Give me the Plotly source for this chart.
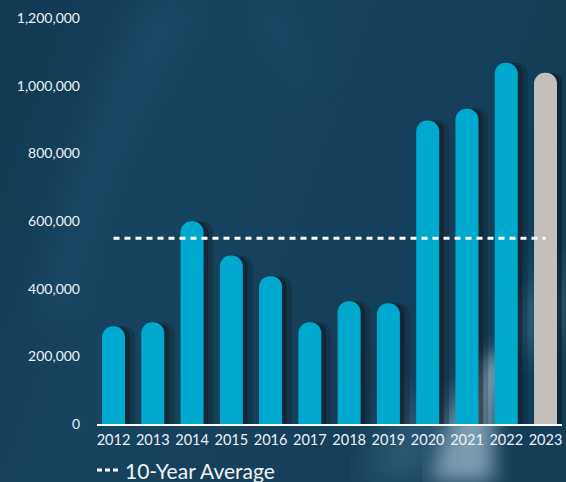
import base64
import plotly.graph_objects as go

# Annual totals, 2012-2023
years = ["2012", "2013", "2014", "2015", "2016", "2017",
         "2018", "2019", "2020", "2021", "2022", "2023"]
totals = [289000, 301000, 599000, 498000, 437000, 301000,
          363000, 357000, 897000, 932000, 1068000, 1038000]
ten_year_average = 549000

y_ticks = [0, 200000, 400000, 600000, 800000, 1000000, 1200000]
y_tick_labels = ["0", "200,000", "400,000", "600,000", "800,000",
                 "1,000,000", "1,200,000"]

CYAN = "#00aacf"
GREY = "#c3bfbc"
bar_colors = [CYAN] * (len(years) - 1) + [GREY]

W, H = 566, 482
L, R, T, B = 97, 4, 18, 58
BAR_W = 0.585

# Soft dark-blue backdrop with light streaks
svg = f"""<svg xmlns='http://www.w3.org/2000/svg' width='{W}' height='{H}'>
<defs>
<linearGradient id='g' x1='0' y1='0' x2='1' y2='0.3'>
<stop offset='0' stop-color='#113a53'/>
<stop offset='0.35' stop-color='#16435f'/>
<stop offset='1' stop-color='#133e58'/>
</linearGradient>
<filter id='b1'><feGaussianBlur stdDeviation='18'/></filter>
<filter id='b2'><feGaussianBlur stdDeviation='10'/></filter>
</defs>
<rect width='{W}' height='{H}' fill='url(#g)'/>
<path d='M150,0 C110,80 70,180 40,320 L70,320 C100,180 150,80 200,0 Z' fill='#2a6088' opacity='0.3' filter='url(#b1)'/>
<path d='M250,0 C260,40 280,70 300,90 L330,80 C300,60 290,30 290,0 Z' fill='#2a6088' opacity='0.2' filter='url(#b1)'/>
<path d='M430,482 C440,430 460,390 490,350 L510,360 C495,400 490,440 495,482 Z' fill='#a9c6d6' opacity='0.7' filter='url(#b2)'/>
<path d='M360,482 C380,440 400,410 420,390 L460,400 C440,430 430,455 430,482 Z' fill='#4a7c9c' opacity='0.45' filter='url(#b1)'/>
<path d='M500,330 C520,300 540,280 566,260 L566,330 C545,340 530,350 515,360 Z' fill='#6f9bb5' opacity='0.35' filter='url(#b1)'/>
</svg>"""
bg_src = "data:image/svg+xml;base64," + base64.b64encode(svg.encode()).decode()

fig = go.Figure()

# Drop shadows to the right of each bar
for shift, alpha in [(0.25, 0.25), (0.12, 0.45)]:
    fig.add_trace(go.Bar(
        x=years, y=totals, width=BAR_W, offset=-BAR_W / 2 + shift,
        marker=dict(color=f"rgba(16,22,30,{alpha})", line=dict(width=0)),
        hoverinfo="skip", showlegend=False,
    ))

fig.add_trace(go.Bar(
    x=years, y=totals, width=BAR_W, offset=-BAR_W / 2,
    marker=dict(color=bar_colors, line=dict(width=0)),
    showlegend=False, name="Total",
))

fig.add_trace(go.Scatter(
    x=years, y=[ten_year_average] * len(years), mode="lines",
    line=dict(color="white", width=3, dash="6px,5px"),
    showlegend=False, name="10-Year Average",
))

plot_w = W - L - R
plot_h = H - T - B
legend_y = -(470 - (H - B)) / plot_h

# Legend key: dashed sample and label below the axis
fig.add_shape(type="line", xref="paper", yref="paper",
              x0=0, x1=21 / plot_w, y0=legend_y, y1=legend_y,
              line=dict(color="white", width=3, dash="5px,3px"))
fig.add_annotation(text="10-Year Average", xref="paper", yref="paper",
                   x=26 / plot_w, y=legend_y,
                   xanchor="left", yanchor="middle", showarrow=False,
                   font=dict(family="Lato", size=21, color="#f2f5f7"))

fig.add_layout_image(dict(
    source=bg_src, xref="paper", yref="paper",
    x=-L / plot_w, y=1 + T / plot_h, sizex=W / plot_w, sizey=H / plot_h,
    xanchor="left", yanchor="top", sizing="stretch", layer="below",
))

fig.update_layout(
    width=W, height=H,
    margin=dict(l=L, r=R, t=T, b=B),
    paper_bgcolor="#143f59", plot_bgcolor="rgba(0,0,0,0)",
    barmode="overlay", barcornerradius=12,
    font=dict(family="Lato", color="#eef2f5"),
    xaxis=dict(type="category", range=[-0.42, 11.42],
               showline=True, linecolor="white", linewidth=2,
               showgrid=False, ticks="", zeroline=False,
               tickfont=dict(size=14.5), ticklabelstandoff=2),
    yaxis=dict(range=[0, 1200000], tickvals=y_ticks, ticktext=y_tick_labels,
               showgrid=False, zeroline=False, showline=False, ticks="",
               tickfont=dict(size=14), ticklabelstandoff=16),
)

fig.write_html("out.html")
